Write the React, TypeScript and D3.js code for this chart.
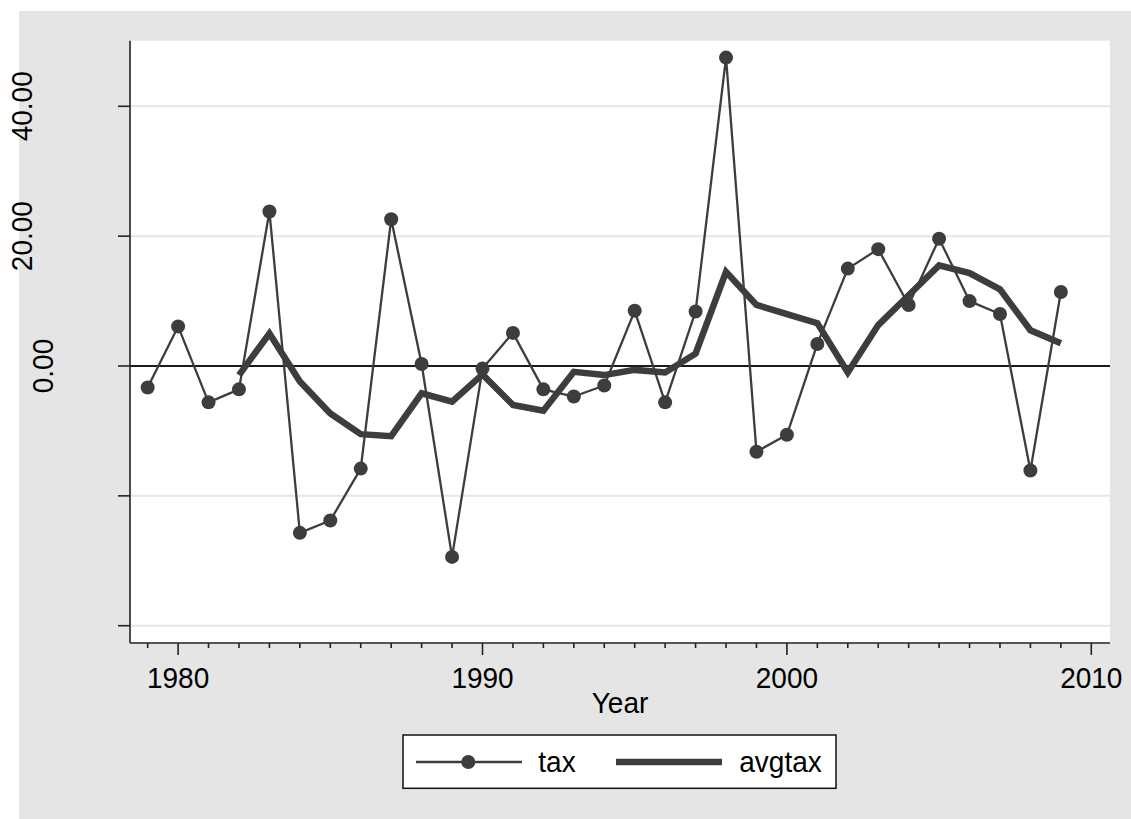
import React from "react";
import * as d3 from "d3";

const years = [1979, 1980, 1981, 1982, 1983, 1984, 1985, 1986, 1987, 1988, 1989, 1990, 1991, 1992, 1993, 1994, 1995, 1996, 1997, 1998, 1999, 2000, 2001, 2002, 2003, 2004, 2005, 2006, 2007, 2008, 2009];
const tax = [-3.3, 6.1, -5.6, -3.6, 23.8, -25.7, -23.8, -15.8, 22.6, 0.3, -29.4, -0.4, 5.1, -3.6, -4.7, -3.0, 8.5, -5.6, 8.4, 47.5, -13.2, -10.6, 3.4, 15.0, 18.0, 9.4, 19.6, 10.0, 8.0, -16.1, 11.4];
const avgYears = [1982, 1983, 1984, 1985, 1986, 1987, 1988, 1989, 1990, 1991, 1992, 1993, 1994, 1995, 1996, 1997, 1998, 1999, 2000, 2001, 2002, 2003, 2004, 2005, 2006, 2007, 2008, 2009];
const avgtax = [-1.4, 5.0, -2.4, -7.3, -10.5, -10.8, -4.2, -5.5, -1.3, -6.0, -6.9, -0.9, -1.4, -0.6, -1.0, 1.9, 14.5, 9.4, 8.0, 6.6, -1.0, 6.3, 10.9, 15.5, 14.3, 11.8, 5.5, 3.5];
const yTicks = [40, 20, 0, -20, -40];
const yTickLabels = ["40.00", "20.00", "0.00", "", ""];
const yGridValues = [40, 20, -20, -40];
const xMajorTicks = [1980, 1990, 2000, 2010];
const xMinorTicks = [1979, 1981, 1982, 1983, 1984, 1985, 1986, 1987, 1988, 1989, 1991, 1992, 1993, 1994, 1995, 1996, 1997, 1998, 1999, 2001, 2002, 2003, 2004, 2005, 2006, 2007, 2008, 2009];
const seriesNames = ["tax", "avgtax"];
const xTitle = "Year";

const W = 1131;
const H = 819;
const FONT = "'Liberation Sans', Arial, Helvetica, sans-serif";
const INK = "#3d3d3d";
const BG = "#e5e5e5";

function T(props: { x: number; y: number; anchor?: string; children: React.ReactNode }) {
  return (
    <text
      transform={`translate(${props.x},${props.y}) scale(1,1.08)`}
      textAnchor={props.anchor || "start"}
      fontSize={28}
      fill="#000"
    >
      {props.children}
    </text>
  );
}

export default function App() {
  const plotL = 130, plotR = 1110, plotT = 40.7, plotB = 643;
  const x = d3.scaleLinear().domain([1980, 2010]).range([178.1, 1091.3]);
  const y = d3.scaleLinear().domain([0, 40]).range([366, 106.3]);

  const taxLine = d3.line<number>().x((_, i) => x(years[i])).y((d) => y(d))(tax) || "";
  const avgLine = d3.line<number>().x((_, i) => x(avgYears[i])).y((d) => y(d))(avgtax) || "";

  const legY = 762;

  return (
    <svg width={W} height={H} style={{ position: "absolute", left: 0, top: 0, display: "block" }} fontFamily={FONT}>
      <rect x={0} y={0} width={W} height={H} fill="#ffffff" />
      <rect x={19} y={11} width={W - 19} height={H - 11} fill={BG} />
      <rect x={plotL} y={plotT} width={plotR - plotL} height={plotB - plotT} fill="#ffffff" />

      {yGridValues.map((v) => (
        <line key={"g" + v} x1={plotL} x2={plotR} y1={y(v)} y2={y(v)} stroke="#e6e6e6" strokeWidth={2} />
      ))}
      <line x1={plotL} x2={plotR} y1={y(0)} y2={y(0)} stroke="#1a1a1a" strokeWidth={2} />

      <path d={taxLine} fill="none" stroke={INK} strokeWidth={2.3} strokeLinejoin="round" />
      {tax.map((v, i) => (
        <circle key={"m" + i} cx={x(years[i])} cy={y(v)} r={7} fill={INK} />
      ))}
      <path d={avgLine} fill="none" stroke={INK} strokeWidth={6.5} strokeLinejoin="miter" />

      <line x1={plotL} x2={plotL} y1={plotT} y2={plotB} stroke="#222" strokeWidth={1.6} />
      <line x1={plotL} x2={plotR} y1={plotB} y2={plotB} stroke="#222" strokeWidth={1.6} />

      {yTicks.map((v, i) => (
        <g key={"yt" + v}>
          <line x1={plotL - 12} x2={plotL} y1={y(v)} y2={y(v)} stroke="#222" strokeWidth={1.6} />
          {yTickLabels[i] && (
            <text
              transform={`translate(${31.7 + (5 - yTickLabels[i].length) * 21.6},${y(v)}) rotate(-90) scale(1,1.08)`}
              textAnchor="middle"
              fontSize={28}
              fill="#000"
            >
              {yTickLabels[i]}
            </text>
          )}
        </g>
      ))}

      {xMinorTicks.map((t) => (
        <line key={"xm" + t} x1={x(t)} x2={x(t)} y1={plotB} y2={plotB + 5} stroke="#222" strokeWidth={1.6} />
      ))}
      {xMajorTicks.map((t) => (
        <g key={"xt" + t}>
          <line x1={x(t)} x2={x(t)} y1={plotB} y2={plotB + 12} stroke="#222" strokeWidth={1.6} />
          <T x={x(t)} y={687.5} anchor="middle">{t}</T>
        </g>
      ))}
      <T x={(plotL + plotR) / 2} y={713.3} anchor="middle">{xTitle}</T>

      <rect x={403} y={735} width={433} height={53.3} fill="#ffffff" stroke="#111" strokeWidth={1.5} />
      <line x1={416} x2={522} y1={legY} y2={legY} stroke={INK} strokeWidth={2.3} />
      <circle cx={468.3} cy={legY} r={7} fill={INK} />
      <T x={538.3} y={772}>{seriesNames[0]}</T>
      <line x1={616} x2={722} y1={legY} y2={legY} stroke={INK} strokeWidth={6.5} />
      <T x={739.3} y={772}>{seriesNames[1]}</T>
    </svg>
  );
}
